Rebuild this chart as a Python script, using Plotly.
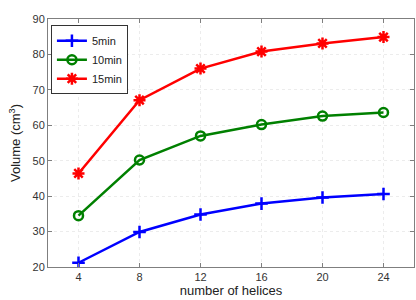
import plotly.graph_objects as go

helices = [4, 8, 12, 16, 20, 24]
vol_5min = [21.2, 29.9, 34.8, 37.9, 39.6, 40.6]
vol_10min = [34.5, 50.2, 57.0, 60.2, 62.6, 63.6]
vol_15min = [46.4, 67.1, 76.0, 80.8, 83.1, 84.9]
series_names = ["5min", "10min", "15min"]
x_ticks = [4, 8, 12, 16, 20, 24]
y_ticks = [20, 30, 40, 50, 60, 70, 80, 90]

FONT = "Liberation Sans, Arial, sans-serif"

fig = go.Figure()
fig.add_trace(go.Scatter(x=helices, y=vol_5min, name=series_names[0], mode="lines+markers",
                         line=dict(color="#0000ff", width=2.5),
                         marker=dict(symbol="cross-thin", size=9, line=dict(color="#0000ff", width=2.5))))
fig.add_trace(go.Scatter(x=helices, y=vol_10min, name=series_names[1], mode="lines+markers",
                         line=dict(color="#008000", width=2.5),
                         marker=dict(symbol="circle-open", size=9, color="#008000", line=dict(color="#008000", width=2.5))))
fig.add_trace(go.Scatter(x=helices, y=vol_15min, name=series_names[2], mode="lines+markers",
                         line=dict(color="#ff0000", width=2.5),
                         marker=dict(symbol="asterisk-open", size=10, line=dict(color="#ff0000", width=2.5))))

axis_common = dict(showline=True, linecolor="#7f7f7f", linewidth=1, mirror="ticks",
                   ticks="inside", ticklen=4, tickcolor="#7f7f7f",
                   showgrid=True, gridcolor="#ececec", griddash="dot", gridwidth=1,
                   zeroline=False, tickfont=dict(family=FONT, size=11, color="#333333"))

fig.update_xaxes(range=[2, 26], tickvals=x_ticks, **axis_common,
                 title=dict(text="number of helices", font=dict(family=FONT, size=13, color="#222222"), standoff=2))
fig.update_yaxes(range=[20, 90], tickvals=y_ticks, **axis_common,
                 title=dict(text="Volume (cm<sup>3</sup>)", font=dict(family=FONT, size=13, color="#222222"), standoff=8))

fig.update_layout(
    width=416, height=300,
    margin=dict(l=48, r=2, t=19, b=33),
    plot_bgcolor="white", paper_bgcolor="white",
    showlegend=True,
    legend=dict(x=0.008, y=0.975, xanchor="left", yanchor="top",
                bgcolor="white", bordercolor="#333333", borderwidth=1,
                font=dict(family=FONT, size=11, color="#222222"),
                tracegroupgap=0, itemwidth=30),
)

fig.write_html("out.html", config={"displayModeBar": False},
               post_script="document.body.style.margin='0';")
